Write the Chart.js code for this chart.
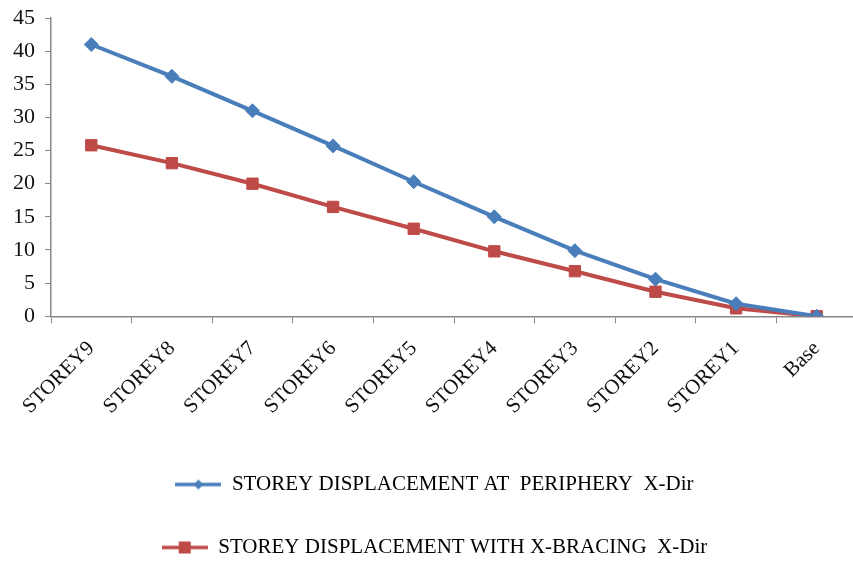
<!DOCTYPE html>
<html>
<head>
<meta charset="utf-8">
<script src="https://cdn.jsdelivr.net/npm/chart.js@4"></script>
<style>
  html, body { margin: 0; padding: 0; background: #fff; overflow: hidden; }
  #wrap { width: 866px; height: 562px; }
</style>
</head>
<body>
<div id="wrap"><canvas id="myChart"></canvas></div>
<script>
var storeys = ['STOREY9', 'STOREY8', 'STOREY7', 'STOREY6', 'STOREY5', 'STOREY4', 'STOREY3', 'STOREY2', 'STOREY1', 'Base'];
var periphery = [41, 36.2, 31, 25.7, 20.3, 15, 9.9, 5.6, 1.9, 0];
var xBracing = [25.8, 23.1, 20, 16.5, 13.2, 9.8, 6.8, 3.7, 1.2, 0];
var yTicks = [0, 5, 10, 15, 20, 25, 30, 35, 40, 45];

var blue = '#4a7ebb';
var red = '#be4b48';

// little line + marker picture for the legend, like excel does
function legendIcon(color, shape) {
    var c = document.createElement('canvas');
    c.width = 46; c.height = 16;
    var g = c.getContext('2d');
    g.strokeStyle = color;
    g.lineWidth = 3.5;
    g.beginPath(); g.moveTo(0, 8); g.lineTo(46, 8); g.stroke();
    g.fillStyle = color;
    if (shape === 'diamond') {
        g.beginPath(); g.moveTo(23, 3); g.lineTo(28, 8); g.lineTo(23, 13); g.lineTo(18, 8); g.closePath(); g.fill();
    } else {
        g.fillRect(17, 2, 12, 12);
    }
    return c;
}

var ctx = document.getElementById('myChart').getContext('2d');
var myChart = new Chart(ctx, {
    type: 'line',
    data: {
        labels: storeys,
        datasets: [{
            label: 'STOREY DISPLACEMENT AT  PERIPHERY  X-Dir',
            data: periphery,
            borderColor: blue,
            backgroundColor: blue,
            borderWidth: 4,
            pointStyle: 'rectRot',
            pointRadius: 7,
            pointBorderWidth: 1,
            tension: 0,
            order: 1
        }, {
            label: 'STOREY DISPLACEMENT WITH X-BRACING  X-Dir',
            data: xBracing,
            borderColor: red,
            backgroundColor: red,
            borderWidth: 4,
            pointStyle: 'rect',
            pointRadius: 8,
            pointBorderWidth: 1,
            tension: 0,
            order: 2
        }]
    },
    options: {
        responsive: true,
        maintainAspectRatio: false,
        animation: false,
        layout: { padding: { top: 5, left: 3, right: 0, bottom: -6 } },
        plugins: {
            tooltip: { enabled: false },
            legend: {
                position: 'bottom',
                labels: {
                    usePointStyle: true,
                    pointStyleWidth: 46,
                    padding: 42,
                    color: '#000',
                    font: { family: 'Liberation Serif', size: 21 },
                    generateLabels: function (chart) {
                        return chart.data.datasets.map(function (ds, i) {
                            return {
                                text: ds.label,
                                pointStyle: legendIcon(ds.borderColor, i === 0 ? 'diamond' : 'square'),
                                fillStyle: ds.borderColor,
                                strokeStyle: ds.borderColor,
                                lineWidth: 0,
                                fontColor: '#000',
                                datasetIndex: i
                            };
                        });
                    }
                }
            }
        },
        scales: {
            x: {
                offset: true,
                grid: { offset: true, drawOnChartArea: false, drawTicks: true, tickLength: 7, color: '#888' },
                border: { color: '#888', width: 1.5 },
                ticks: {
                    minRotation: 45,
                    maxRotation: 45,
                    color: '#111',
                    padding: 13,
                    font: { family: 'Liberation Serif', size: 21 }
                }
            },
            y: {
                min: 0,
                max: 45,
                afterBuildTicks: function (axis) {
                    axis.ticks = yTicks.map(function (v) { return { value: v }; });
                },
                // tick padding also pads the top, take that back
                afterFit: function (axis) {
                    axis.paddingTop = 18;
                    axis.paddingBottom = 11;
                },
                grid: { drawOnChartArea: false, drawTicks: true, tickLength: 6, color: '#888' },
                border: { color: '#888', width: 1.5 },
                ticks: {
                    color: '#111',
                    padding: 10,
                    font: { family: 'Liberation Serif', size: 22 }
                }
            }
        }
    }
});
</script>
</body>
</html>
